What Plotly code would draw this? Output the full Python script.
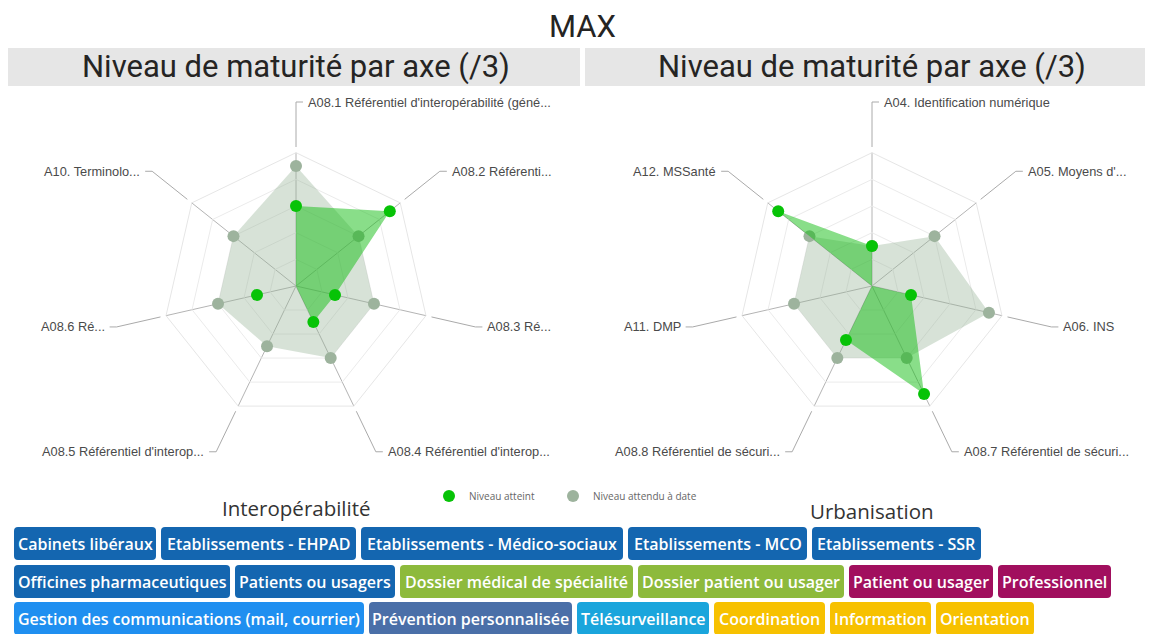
import math
import plotly.graph_objects as go

# page is shown with the browser's 8px body margin, so positions are taken
# from the screenshot and shifted by that margin
W, H = 1153, 634
PAD = 8
FIG_W, FIG_H = W - PAD, H - PAD

# Radar data (/3)
interop_axes = [
    "A08.1 Référentiel d'interopérabilité (géné...",
    "A08.2 Référenti...",
    "A08.3 Ré...",
    "A08.4 Référentiel d'interop...",
    "A08.5 Référentiel d'interop...",
    "A08.6 Ré...",
    "A10. Terminolo...",
]
interop_atteint = [2, 3, 1, 1, 0, 1, 0]
interop_attendu = [3, 2, 2, 2, 1.67, 2, 2]

urba_axes = [
    "A04. Identification numérique",
    "A05. Moyens d'...",
    "A06. INS",
    "A08.7 Référentiel de sécuri...",
    "A08.8 Référentiel de sécuri...",
    "A11. DMP",
    "A12. MSSanté",
]
urba_atteint = [1, 0, 1, 3, 1.5, 0, 3]
urba_attendu = [1, 2, 3, 2, 2, 2, 2]

# Slicer chips (labels + colour group)
chip_rows = [
    ["Cabinets libéraux", "Etablissements - EHPAD", "Etablissements - Médico-sociaux",
     "Etablissements - MCO", "Etablissements - SSR"],
    ["Officines pharmaceutiques", "Patients ou usagers", "Dossier médical de spécialité",
     "Dossier patient ou usager", "Patient ou usager", "Professionnel"],
    ["Gestion des communications (mail, courrier)", "Prévention personnalisée",
     "Télésurveillance", "Coordination", "Information", "Orientation"],
]
chip_groups = [
    ["acteur", "acteur", "acteur", "acteur", "acteur"],
    ["acteur", "acteur", "dossier", "dossier", "usager", "usager"],
    ["comm", "prevention", "telesurv", "parcours", "parcours", "parcours"],
]

# layout / style constants
GROUP_COLORS = {
    "acteur": "#1466b0", "dossier": "#8dba3c", "usager": "#a10f5e",
    "comm": "#1f8ff0", "prevention": "#4a6fa8", "telesurv": "#1aa5dc",
    "parcours": "#f7c100",
}
CHIP_WIDTHS = [
    [142, 195, 262, 179, 169],
    [216, 160, 233, 206, 144, 113],
    [350, 203, 132, 111, 101, 98],
]
CHIP_TOPS = [527, 565, 602]
CHIP_H = 33
CHIP_GAP = 5
CHIP_X0 = 14

GREEN = "#07c307"
GREY = "#9db39d"
R_MAX = 10 / 3
R_PX = 133.3
CENTERS = [(296, 286), (872, 286)]


def px(x, y):
    return (x - PAD) / FIG_W, 1 - (y - PAD) / FIG_H


def rounded_rect(x0, y0, x1, y1, r=4):
    p = lambda x, y: "%.5f,%.5f" % px(x, y)
    return ("M " + p(x0 + r, y0) + " L " + p(x1 - r, y0) + " Q " + p(x1, y0) + " " + p(x1, y0 + r)
            + " L " + p(x1, y1 - r) + " Q " + p(x1, y1) + " " + p(x1 - r, y1)
            + " L " + p(x0 + r, y1) + " Q " + p(x0, y1) + " " + p(x0, y1 - r)
            + " L " + p(x0, y0 + r) + " Q " + p(x0, y0) + " " + p(x0 + r, y0) + " Z")


fig = go.Figure()
shapes = []
annotations = []

charts = [
    ("polar", interop_axes, interop_atteint, interop_attendu),
    ("polar2", urba_axes, urba_atteint, urba_attendu),
]

for k, (sub, axes, atteint, attendu) in enumerate(charts):
    fig.add_trace(go.Scatterpolar(
        r=attendu, theta=axes, subplot=sub, mode="lines+markers", fill="toself",
        fillcolor="rgba(150,178,150,0.38)", line=dict(width=0, color=GREY),
        marker=dict(size=12, color=GREY), name="Niveau attendu à date", showlegend=False))
    fig.add_trace(go.Scatterpolar(
        r=atteint, theta=axes, subplot=sub, mode="lines+markers", fill="toself",
        fillcolor="rgba(20,190,20,0.5)", line=dict(width=0, color=GREEN),
        marker=dict(size=12, color=GREEN), name="Niveau atteint", showlegend=False))

    cx, cy = CENTERS[k]
    x0, y1 = px(cx - R_PX, cy - R_PX)
    x1, y0 = px(cx + R_PX, cy + R_PX)
    fig.update_layout(**{sub: dict(
        domain=dict(x=[x0, x1], y=[y0, y1]),
        gridshape="linear",
        bgcolor="white",
        radialaxis=dict(range=[0, R_MAX], tickvals=[R_MAX * i / 5 for i in range(1, 6)],
                        showticklabels=False, ticks="", showline=False,
                        gridcolor="#ebebeb", gridwidth=1),
        angularaxis=dict(categoryorder="array", categoryarray=axes, rotation=90,
                         direction="clockwise", showticklabels=False, ticks="",
                         gridcolor="#b4b4b4", gridwidth=1, showline=True,
                         linecolor="#e6e6e6", linewidth=1),
    )})

    # axis labels with leader lines
    n = len(axes)
    for i, lab in enumerate(axes):
        a = 2 * math.pi * i / n
        dx, dy = math.sin(a), -math.cos(a)
        sx, sy = cx + 139 * dx, cy + 139 * dy
        ex, ey = cx + 184 * dx, cy + 184 * dy
        side = -1 if dx < -1e-6 else 1
        hx = ex + 7 * side
        for (ax0, ay0, ax1, ay1) in [(sx, sy, ex, ey), (ex, ey, hx, ey)]:
            p0, p1 = px(ax0, ay0), px(ax1, ay1)
            shapes.append(dict(type="line", xref="paper", yref="paper",
                               x0=p0[0], y0=p0[1], x1=p1[0], y1=p1[1],
                               line=dict(color="#aaaaaa", width=1)))
        tx, ty = px(hx + 3 * side, ey)
        annotations.append(dict(x=tx, y=ty, xref="paper", yref="paper", text=lab,
                                showarrow=False, xanchor="left" if side > 0 else "right",
                                yanchor="middle",
                                font=dict(family="Liberation Sans, Arial", size=12.8, color="#4a4a4a")))

# legend-only entries (circle symbols), one legend each to match spacing
for name, col, leg in [("Niveau atteint", GREEN, "legend"), ("Niveau attendu à date", GREY, "legend2")]:
    fig.add_trace(go.Scatterpolar(r=[None], theta=[None], subplot="polar", mode="markers",
                                  marker=dict(size=12, color=col), name=name, legend=leg))

# header bars and titles
for (bx0, bx1), cx in zip([(8, 580), (585, 1145)], [296, 872]):
    a0, b0 = px(bx0, 48)
    a1, b1 = px(bx1, 86)
    shapes.append(dict(type="rect", xref="paper", yref="paper", x0=a0, x1=a1, y0=b1, y1=b0,
                       fillcolor="#e6e6e6", line=dict(width=0), layer="below"))
    tx, ty = px(cx, 67)
    annotations.append(dict(x=tx, y=ty, xref="paper", yref="paper", showarrow=False,
                            text="Niveau de maturité par axe (/3)", xanchor="center", yanchor="middle",
                            font=dict(family="Roboto", size=31, color="#252423")))

tx, ty = px(583, 26)
annotations.append(dict(x=tx, y=ty, xref="paper", yref="paper", showarrow=False, text="MAX",
                        xanchor="center", yanchor="middle", borderpad=0,
                        font=dict(family="Roboto", size=31, color="#252423")))

for txt, cx, cy in [("Interopérabilité", 296, 508), ("Urbanisation", 872, 511)]:
    tx, ty = px(cx, cy)
    annotations.append(dict(x=tx, y=ty, xref="paper", yref="paper", showarrow=False, text=txt,
                            xanchor="center", yanchor="middle",
                            font=dict(family="Open Sans", size=20.5, color="#333333")))

# slicer chips
for labels, groups, widths, top in zip(chip_rows, chip_groups, CHIP_WIDTHS, CHIP_TOPS):
    x = CHIP_X0
    for lab, grp, w in zip(labels, groups, widths):
        shapes.append(dict(type="path", xref="paper", yref="paper",
                           path=rounded_rect(x, top, x + w, top + CHIP_H),
                           fillcolor=GROUP_COLORS[grp], line=dict(width=0)))
        tx, ty = px(x + w / 2, top + CHIP_H / 2)
        annotations.append(dict(x=tx, y=ty, xref="paper", yref="paper", showarrow=False, text=lab,
                                xanchor="center", yanchor="middle",
                                font=dict(family="Open Sans", size=16, color="white", weight=600)))
        x += w + CHIP_GAP

leg_style = dict(orientation="h", xanchor="left", yanchor="middle",
                 font=dict(family="Open Sans", size=10, color="#666666"),
                 bgcolor="rgba(0,0,0,0)")
l1x, ly = px(429, 496)
l2x, _ = px(553, 496)
fig.update_layout(
    width=FIG_W, height=FIG_H,
    margin=dict(l=0, r=0, t=0, b=0),
    paper_bgcolor="white",
    shapes=shapes,
    annotations=annotations,
    showlegend=True,
    legend=dict(x=l1x, y=ly, **leg_style),
    legend2=dict(x=l2x, y=ly, **leg_style),
)

fig.write_html("out.html")
